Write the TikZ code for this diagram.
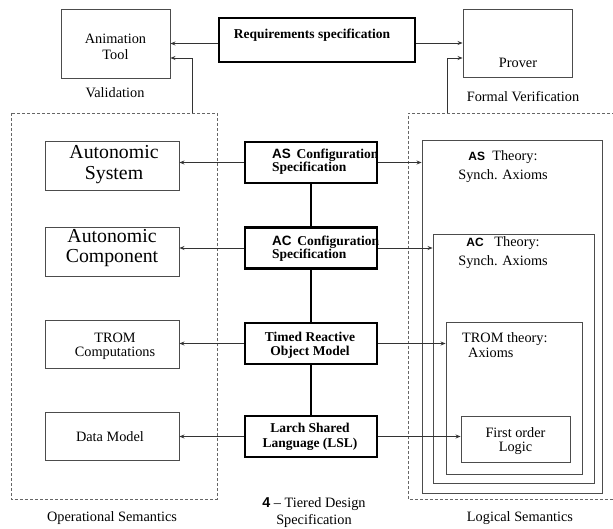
\documentclass[tikz,border=0pt]{standalone}
\usepackage{fontspec}
\setmainfont{Liberation Serif}
\newfontfamily\sansb{Liberation Sans}
\usetikzlibrary{arrows.meta,calc}
\begin{document}
\begin{tikzpicture}[x=1pt,y=-1pt,
  thinbox/.style={draw=black!70,line width=0.9pt,inner sep=0pt,minimum width=#1},
  thickbox/.style={draw=black,line width=2.4pt,inner sep=0pt,minimum width=132pt,minimum height=41pt},
  dashbox/.style={draw=black!60,line width=0.8pt,dash pattern=on 3pt off 2pt},
  conn/.style={draw=black!80,line width=0.8pt,-{Stealth[length=5pt,width=4pt]}},
  link/.style={draw=black,line width=2.4pt},
  txt/.style={font=\fontsize{14.3}{15}\selectfont,inner sep=0pt,align=center},
  btxt/.style={font=\fontsize{13.5}{13}\selectfont\bfseries,inner sep=0pt,align=center},
  bigtxt/.style={font=\fontsize{19.8}{21}\selectfont,inner sep=0pt,align=center}]
\useasboundingbox (0,0) rectangle (613,529);
\fill[white] (0,0) rectangle (613,529);

% dashed regions
\draw[dashbox] (11,113) rectangle (217,499);
\draw[dashbox] (620,113) -- (408,113) -- (408,499) -- (620,499);
\coordinate (va) at (192,113);
\coordinate (vb) at (447,113);

% top row
\node[thinbox=109pt,minimum height=69pt] (anim) at (115.5,43.5) {};
\node[txt,font=\fontsize{14.3}{16}\selectfont] (animt) at (115.5,47) {Animation\\Tool};
\node[draw=black,line width=2.4pt,minimum width=196pt,minimum height=44pt,inner sep=0pt] (req) at (317,40) {};
\node[btxt] (reqt) at (312,35) {Requirements specification};
\node[thinbox=109pt,minimum height=68pt] (prover) at (517.5,43) {};
\node[txt] (provert) at (518,63) {Prover};
\node[txt] (valid) at (115,93) {Validation};
\node[txt] (fverif) at (523,97) {Formal Verification};

\draw[conn] (anim.east -| req.west) -- (anim.east);
\draw[conn] (prover.west -| req.east) -- (prover.west);
\draw[conn] (va) |- ($(anim.east)+(0,14.5)$);
\draw[conn] (vb) |- ($(prover.west)+(0,15)$);

% middle column
\node[thickbox] (asc) at (311,162.5) {};
\node[thickbox] (acc) at (311,248) {};
\node[thickbox] (trom) at (311,343.5) {};
\node[thickbox] (lsl) at (311,436.5) {};
\node[btxt,align=left,anchor=west,font=\fontsize{13.5}{13}\selectfont\bfseries] (asct) at (272,161.5) {{\sansb AS}\ \,Configuration\\Specification};
\node[btxt,align=left,anchor=west,font=\fontsize{13.5}{12}\selectfont\bfseries] (acct) at (272,248.5) {{\sansb AC}\ \,Configuration\\Specification};
\node[btxt,font=\fontsize{13.5}{14}\selectfont\bfseries] (tromt) at (310,345) {Timed Reactive\\Object Model};
\node[btxt,font=\fontsize{13.5}{15}\selectfont\bfseries] (lslt) at (310,436.5) {Larch Shared\\Language (LSL)};
\draw[link] (asc) -- (acc);
\draw[link] (acc) -- (trom);
\draw[link] (trom) -- (lsl);

% left column
\node[thinbox=134pt,minimum height=49pt] (as) at (112,165.5) {};
\node[bigtxt] (ast) at (114,164.5) {Autonomic\\System};
\node[thinbox=134pt,minimum height=49pt] (ac) at (112,251.5) {};
\node[bigtxt,font=\fontsize{19.8}{20}\selectfont] (act) at (112,248.5) {Autonomic\\Component};
\node[thinbox=134pt,minimum height=48pt] (tc) at (112,344) {};
\node[txt,font=\fontsize{14.3}{14}\selectfont] (tct) at (115,346) {TROM\\Computations};
\node[thinbox=134pt,minimum height=48pt] (dm) at (112,436) {};
\node[txt] (dmt) at (110,437) {Data Model};

\draw[conn] (asc.west) -- (asc.west -| as.east);
\draw[conn] (acc.west) -- (acc.west -| ac.east);
\draw[conn] (trom.west) -- (trom.west -| tc.east);
\draw[conn] (lsl.west) -- (lsl.west -| dm.east);

% right nested boxes
\node[thinbox=180pt,minimum height=353pt] (asth) at (512,316.5) {};
\node[thinbox=161pt,minimum height=249pt] (acth) at (513.5,358.5) {};
\node[thinbox=136pt,minimum height=152pt] (tromth) at (514,398) {};
\node[thinbox=109pt,minimum height=46pt] (fol) at (515.5,439) {};
\node[txt,font=\fontsize{14.3}{19}\selectfont] (astht) at (503,167) {{\sansb\bfseries\fontsize{12}{12}\selectfont AS}\ \ Theory:\\Synch. Axioms};
\node[txt,font=\fontsize{14.3}{19}\selectfont] (actht) at (503,253) {{\sansb\bfseries\fontsize{12}{12}\selectfont AC}\ \ \ Theory:\\Synch. Axioms};
\node[txt,align=left,anchor=west,font=\fontsize{14.3}{15}\selectfont] (tromtht) at (462,345) {TROM theory:\\\hspace{6pt}Axioms};
\node[txt,font=\fontsize{14.3}{13.5}\selectfont] (folt) at (515.5,441) {First order\\Logic};

\draw[conn] (asc.east) -- (asc.east -| asth.west);
\draw[conn] (acc.east) -- (acc.east -| acth.west);
\draw[conn] (trom.east) -- (trom.east -| tromth.west);
\draw[conn] (lsl.east) -- (lsl.east -| fol.west);

% bottom labels
\node[txt] (opsem) at (112,518) {Operational Semantics};
\node[txt,font=\fontsize{14.3}{17}\selectfont] (tier) at (314,513) {{\sansb\bfseries 4} -- Tiered Design\\Specification};
\node[txt] (logsem) at (520,518) {Logical Semantics};
\end{tikzpicture}
\end{document}
